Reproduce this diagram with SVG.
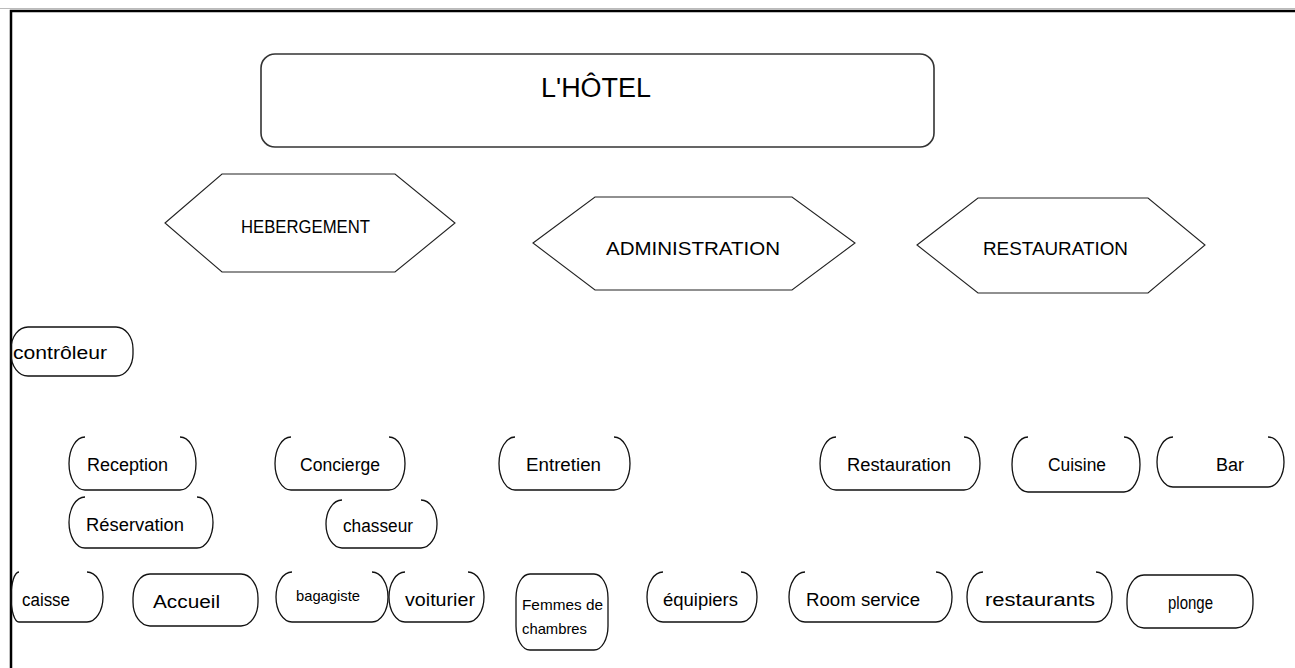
<svg xmlns="http://www.w3.org/2000/svg" width="1295" height="668" viewBox="0 0 1295 668">
  <style>
    .frame { fill: none; stroke: #000; stroke-width: 2.5; }
    .rule { fill: none; stroke: #bbb; stroke-width: 1; }
    .top { fill: #fff; stroke: #333; stroke-width: 1.6; }
    .hex { fill: #fff; stroke: #222; stroke-width: 1.1; }
    .pill { fill: none; stroke: #111; stroke-width: 1.3; }
    text { font-family: "Liberation Sans", "DejaVu Sans", sans-serif; fill: #000; }
    .big { font-size: 27px; }
    .cat { font-size: 19px; }
    .lbl { font-size: 18px; }
    .sm { font-size: 15px; }
  </style>

  <rect width="1295" height="668" fill="#fff"/>
  <!-- page frame -->
  <path class="rule" d="M0,8.5 L1295,8.5"/>
  <path class="frame" d="M11,668 L11,11 L1300,11"/>

  <g id="hotel">
    <rect class="top" x="261" y="54" width="673" height="93" rx="14" ry="14"/>
    <text class="big" x="541" y="97" textLength="110" lengthAdjust="spacingAndGlyphs">L'HÔTEL</text>
  </g>

  <g id="hebergement">
    <polygon class="hex" points="165,223 222,174 395,174 455,223 395,272 222,272"/>
    <text class="cat" x="241" y="233" textLength="129" lengthAdjust="spacingAndGlyphs">HEBERGEMENT</text>
  </g>
  <g id="administration">
    <polygon class="hex" points="533,243 595,197 792,197 855,243 792,290 595,290"/>
    <text class="cat" x="606" y="255" textLength="174" lengthAdjust="spacingAndGlyphs">ADMINISTRATION</text>
  </g>
  <g id="restauration-dept">
    <polygon class="hex" points="917,245 978,198 1148,198 1205,245 1148,293 978,293"/>
    <text class="cat" x="983" y="255" textLength="145" lengthAdjust="spacingAndGlyphs">RESTAURATION</text>
  </g>

  <!-- closed pills -->
  <g id="controleur">
    <rect class="pill" x="11" y="327" width="122" height="49" rx="17" ry="22"/>
    <text class="lbl" x="13" y="359" textLength="94" lengthAdjust="spacingAndGlyphs">contrôleur</text>
  </g>
  <g id="accueil">
    <rect class="pill" x="133" y="574" width="125" height="52" rx="17" ry="24"/>
    <text class="lbl" x="153" y="608" textLength="67" lengthAdjust="spacingAndGlyphs">Accueil</text>
  </g>
  <g id="femmes">
    <rect class="pill" x="516" y="574" width="92" height="76" rx="14" ry="24"/>
    <text class="sm" x="522" y="610" textLength="81" lengthAdjust="spacingAndGlyphs">Femmes de</text>
    <text class="sm" x="522" y="634" textLength="65" lengthAdjust="spacingAndGlyphs">chambres</text>
  </g>
  <g id="plonge">
    <rect class="pill" x="1127" y="575" width="126" height="53" rx="17" ry="24"/>
    <text class="lbl" x="1168" y="609" textLength="45" lengthAdjust="spacingAndGlyphs">plonge</text>
  </g>

  <!-- open-top pills: curved sides, bottom edge, no top edge -->
  <g id="reception">
    <path class="pill" d="M85,437 A16,26.5 0 0 0 85,490 L180,490 A16,26.5 0 0 0 180,437"/>
    <text class="lbl" x="87" y="471" textLength="81" lengthAdjust="spacingAndGlyphs">Reception</text>
  </g>
  <g id="concierge">
    <path class="pill" d="M291,437 A16,26.5 0 0 0 291,490 L389,490 A16,26.5 0 0 0 389,437"/>
    <text class="lbl" x="300" y="471" textLength="80" lengthAdjust="spacingAndGlyphs">Concierge</text>
  </g>
  <g id="entretien">
    <path class="pill" d="M515,437 A16,26.5 0 0 0 515,490 L614,490 A16,26.5 0 0 0 614,437"/>
    <text class="lbl" x="526" y="471" textLength="75" lengthAdjust="spacingAndGlyphs">Entretien</text>
  </g>
  <g id="restauration">
    <path class="pill" d="M836,437 A16,26.5 0 0 0 836,490 L964,490 A16,26.5 0 0 0 964,437"/>
    <text class="lbl" x="847" y="471" textLength="104" lengthAdjust="spacingAndGlyphs">Restauration</text>
  </g>
  <g id="cuisine">
    <path class="pill" d="M1028,437 A16,27.5 0 0 0 1028,492 L1124,492 A16,27.5 0 0 0 1124,437"/>
    <text class="lbl" x="1048" y="471" textLength="58" lengthAdjust="spacingAndGlyphs">Cuisine</text>
  </g>
  <g id="bar">
    <path class="pill" d="M1173,437 A16,25 0 0 0 1173,487 L1268,487 A16,25 0 0 0 1268,437"/>
    <text class="lbl" x="1216" y="471" textLength="28" lengthAdjust="spacingAndGlyphs">Bar</text>
  </g>
  <g id="reservation">
    <path class="pill" d="M85,497 A16,25.5 0 0 0 85,548 L197,548 A16,25.5 0 0 0 197,497"/>
    <text class="lbl" x="86" y="531" textLength="98" lengthAdjust="spacingAndGlyphs">Réservation</text>
  </g>
  <g id="chasseur">
    <path class="pill" d="M342,500 A16,24 0 0 0 342,548 L421,548 A16,24 0 0 0 421,500"/>
    <text class="lbl" x="343" y="532" textLength="70" lengthAdjust="spacingAndGlyphs">chasseur</text>
  </g>
  <g id="caisse">
    <path class="pill" d="M19,572 A8,25 0 0 0 19,622 L87,622 A16,25 0 0 0 87,572"/>
    <text class="lbl" x="22" y="606" textLength="48" lengthAdjust="spacingAndGlyphs">caisse</text>
  </g>
  <g id="bagagiste">
    <path class="pill" d="M292,572 A16,25 0 0 0 292,622 L372,622 A16,25 0 0 0 372,572"/>
    <text class="sm" x="296" y="601" textLength="64" lengthAdjust="spacingAndGlyphs">bagagiste</text>
  </g>
  <g id="voiturier">
    <path class="pill" d="M405,572 A16,25 0 0 0 405,622 L468,622 A16,25 0 0 0 468,572"/>
    <text class="lbl" x="405" y="606" textLength="70" lengthAdjust="spacingAndGlyphs">voiturier</text>
  </g>
  <g id="equipiers">
    <path class="pill" d="M663,572 A16,25 0 0 0 663,622 L741,622 A16,25 0 0 0 741,572"/>
    <text class="lbl" x="663" y="606" textLength="75" lengthAdjust="spacingAndGlyphs">équipiers</text>
  </g>
  <g id="room-service">
    <path class="pill" d="M805,572 A16,25 0 0 0 805,622 L936,622 A16,25 0 0 0 936,572"/>
    <text class="lbl" x="806" y="606" textLength="114" lengthAdjust="spacingAndGlyphs">Room service</text>
  </g>
  <g id="restaurants">
    <path class="pill" d="M983,572 A16,25 0 0 0 983,622 L1096,622 A16,25 0 0 0 1096,572"/>
    <text class="lbl" x="985" y="606" textLength="110" lengthAdjust="spacingAndGlyphs">restaurants</text>
  </g>

  <!-- no connectors are drawn between the boxes -->
  <g id="connectors"/>
</svg>
